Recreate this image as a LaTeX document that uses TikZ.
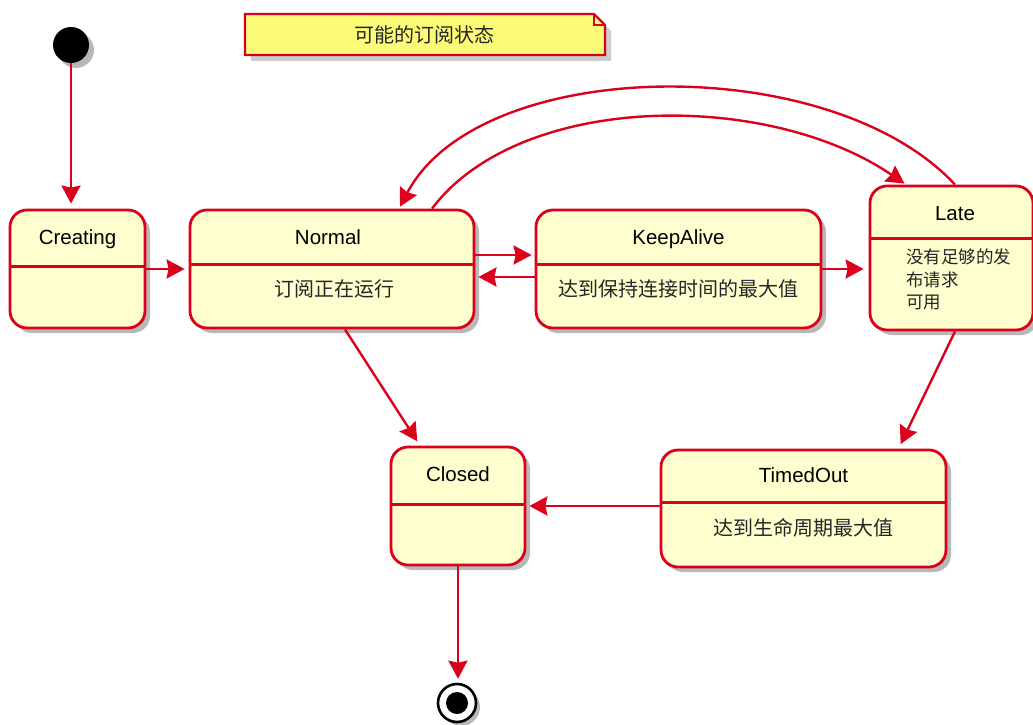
\documentclass[tikz,border=0pt]{standalone}
\usepackage{fontspec}
\setmainfont{Liberation Sans}
\newfontfamily\cjk{Noto Sans CJK SC}
\usetikzlibrary{arrows.meta,calc,positioning,shadows}
\definecolor{umlred}{HTML}{DC001C}
\definecolor{statefill}{HTML}{FEFECE}
\definecolor{notefill}{HTML}{FBFB77}
\tikzset{
  statebox/.style={draw=umlred,fill=statefill,line width=2.8pt,rounded corners=17pt,inner sep=0pt,
    drop shadow={opacity=0.28,fill=black,shadow xshift=5pt,shadow yshift=-5pt}},
  divider/.style={draw=umlred,line width=2.8pt},
  title/.style={font=\fontsize{20.5}{24}\selectfont,text=black,inner sep=0pt,anchor=base},
  body/.style={font=\cjk\fontsize{20}{24}\selectfont,text=black!85,inner sep=0pt},
  flow/.style={-{Stealth[length=18pt,width=19pt,inset=2pt]},line width=2.4pt,draw=umlred},
  startdot/.style={circle,fill=black,minimum size=36pt,inner sep=0pt,
    drop shadow={opacity=0.28,fill=black,shadow xshift=5pt,shadow yshift=-5pt}},
  enddot/.style={circle,draw=black,line width=2.6pt,fill=white,minimum size=38pt,inner sep=0pt,
    drop shadow={opacity=0.28,fill=black,shadow xshift=4pt,shadow yshift=-4pt}},
  enddotin/.style={circle,fill=black,minimum size=22pt,inner sep=0pt}
}

\begin{document}
\begin{tikzpicture}[x=1pt,y=-1pt]
  \useasboundingbox (0,0) rectangle (1033,725);

  % note
  \fill[black,opacity=0.2] (251,20) -- (600,20) -- (611,31) -- (611,61) -- (251,61) -- cycle;
  \draw[umlred,fill=notefill,line width=2.4pt] (245,14) -- (594,14) -- (605,25) -- (605,55) -- (245,55) -- cycle;
  \draw[umlred,line width=1.6pt] (594,14) -- (594,25) -- (605,25);
  \node[body] (note) at (424,35) {可能的订阅状态};

  % states
  \node[startdot] (start) at (71,45) {};
  \node[statebox,minimum width=135pt,minimum height=118pt] (creating) at (77.5,269) {};
  \node[statebox,minimum width=284pt,minimum height=118pt] (normal) at (332,269) {};
  \node[statebox,minimum width=285pt,minimum height=118pt] (keepalive) at (678.5,269) {};
  \node[statebox,minimum width=163pt,minimum height=144pt] (late) at (951.5,258) {};
  \node[statebox,minimum width=134pt,minimum height=118pt] (closed) at (458,506) {};
  \node[statebox,minimum width=285pt,minimum height=117pt] (timedout) at (803.5,508.5) {};
  \node[enddot] (end) at (457,703) {};
  \node[enddotin] (endin) at (end) {};

  % dividers
  \draw[divider] ($(creating.north west)+(0,58)$) -- ($(creating.north east)+(0,58)$);
  \draw[divider] ($(normal.north west)+(0,56)$) -- ($(normal.north east)+(0,56)$);
  \draw[divider] ($(keepalive.north west)+(0,56)$) -- ($(keepalive.north east)+(0,56)$);
  \draw[divider] ($(late.north west)+(0,54)$) -- ($(late.north east)+(0,54)$);
  \draw[divider] ($(closed.north west)+(0,59)$) -- ($(closed.north east)+(0,59)$);
  \draw[divider] ($(timedout.north west)+(0,54)$) -- ($(timedout.north east)+(0,54)$);

  % texts
  \node[title] (creatingname) at ($(creating.north)+(0,36)$) {Creating};
  \node[title] (normalname) at ($(normal.north)+(-4,36)$) {Normal};
  \node[body] (normalbody) at ($(normal.north)+(2,80)$) {订阅正在运行};
  \node[title] (keepalivename) at ($(keepalive.north)+(0,36)$) {KeepAlive};
  \node[body] (keepalivebody) at ($(keepalive.north)+(0,80)$) {达到保持连接时间的最大值};
  \node[title] (latename) at ($(late.north)+(3.5,36)$) {Late};
  \node[body,font=\cjk\fontsize{17.5}{22.5}\selectfont,align=left,anchor=north west]
    (latebody) at (906,249) {没有足够的发\\布请求\\可用};
  \node[title] (closedname) at ($(closed.north)+(0,36)$) {Closed};
  \node[title] (timedoutname) at ($(timedout.north)+(0,34)$) {TimedOut};
  \node[body] (timedoutbody) at ($(timedout.north)+(0,79)$) {达到生命周期最大值};

  % transitions
  \draw[flow,shorten >=5pt] (start) -- (start |- creating.north);
  \draw[flow,shorten >=4pt] (creating.east) -- (normal.west);
  \draw[flow,shorten >=3pt] ($(normal.east)+(0,-14)$) -- ($(keepalive.west)+(0,-14)$);
  \draw[flow,shorten >=3pt] ($(keepalive.west)+(0,8)$) -- ($(normal.east)+(0,8)$);
  \draw[flow,shorten >=5pt] (keepalive.east) -- (keepalive.east -| late.west);
  \draw[flow] ($(late.north)+(3.5,0)$) .. controls (830,50) and (480,55) .. ($(normal.north)+(68,-2)$);
  \draw[flow] ($(normal.north)+(100,0)$) .. controls (520,92) and (767,90) .. ($(late.north)+(-47,-1)$);
  \draw[flow,shorten >=5pt] ($(normal.south)+(13,0)$) -- ($(closed.north)+(-38,0)$);
  \draw[flow,shorten >=5pt] ($(late.south)+(3.5,0)$) -- ($(timedout.north)+(95,0)$);
  \draw[flow,shorten >=3pt] (timedout.west |- closed.east) -- (closed.east);
  \draw[flow,shorten >=4pt] (closed.south) -- (closed.south |- end.north);
\end{tikzpicture}
\end{document}
